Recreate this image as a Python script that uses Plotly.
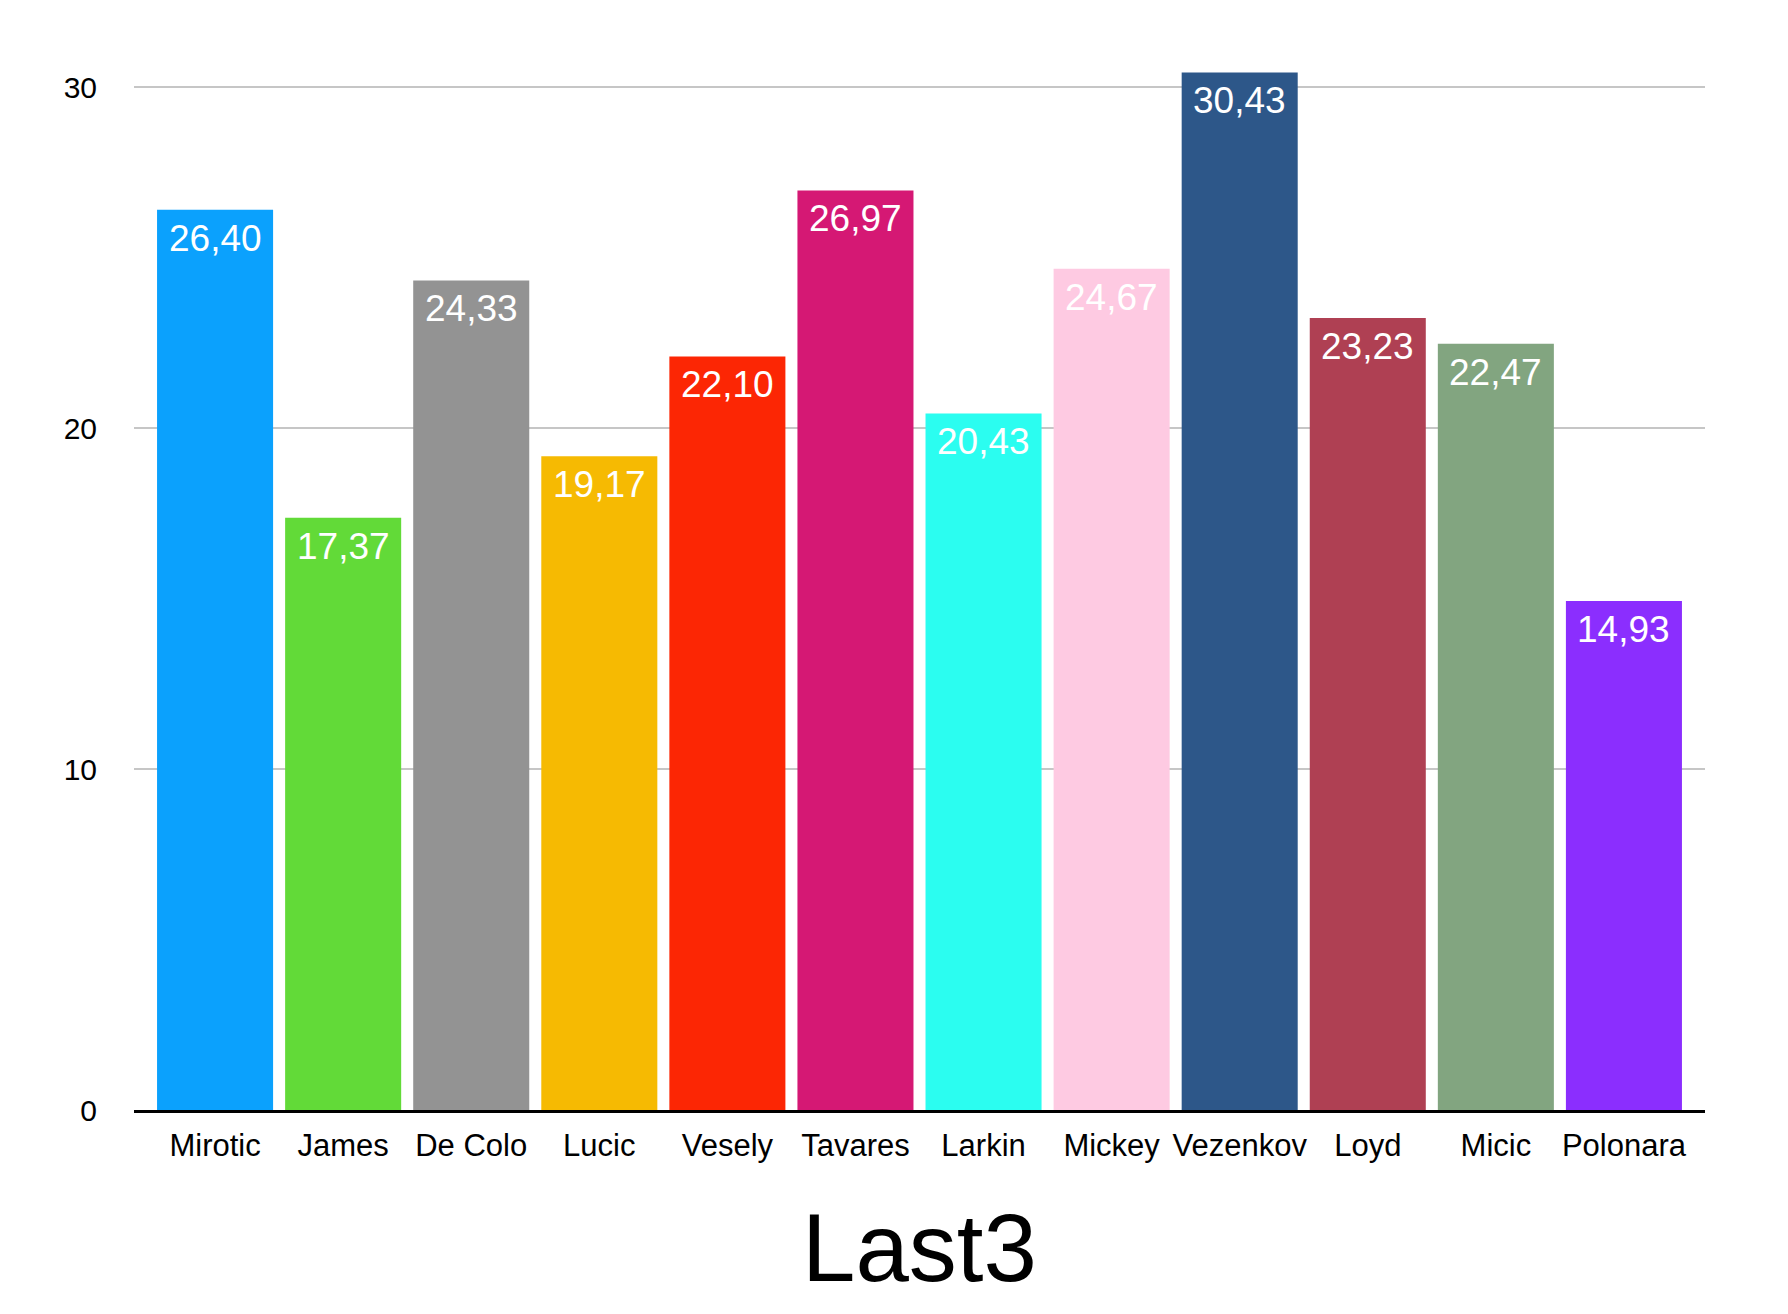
import plotly.graph_objects as go

# Last3 averages per player
players = ["Mirotic", "James", "De Colo", "Lucic", "Vesely", "Tavares",
           "Larkin", "Mickey", "Vezenkov", "Loyd", "Micic", "Polonara"]
last3 = [26.40, 17.37, 24.33, 19.17, 22.10, 26.97,
         20.43, 24.67, 30.43, 23.23, 22.47, 14.93]
bar_colors = ["#0BA1FD", "#62DA38", "#939393", "#F6BA02", "#FC2604", "#D51874",
              "#2BFDF0", "#FECAE2", "#2D5789", "#AF4053", "#82A580", "#8B2EFE"]
y_ticks = [0, 10, 20, 30]

FONT = "Liberation Sans, Arial, Helvetica, sans-serif"

fig = go.Figure()

fig.add_trace(go.Bar(x=players,
                     y=last3,
                     marker_color=bar_colors,
                     marker_line_width=0,
                     hovertemplate="%{x}: %{y:.2f}<extra></extra>"))

# value labels just under the top of each bar (comma decimal)
for name, val in zip(players, last3):
    fig.add_annotation(x=name, y=val,
                       text=f"{val:.2f}".replace(".", ","),
                       showarrow=False,
                       yanchor="top",
                       yshift=-6,
                       font=dict(family=FONT, size=37, color="white"))

# page body has an 8px margin, so the figure is a bit smaller than the window
fig.update_layout(width=1772,
                  height=1298,
                  margin=dict(l=126, r=75, t=45, b=196),
                  paper_bgcolor="white",
                  plot_bgcolor="white",
                  bargap=0.094,
                  showlegend=False,
                  font=dict(family=FONT, color="black"),
                  xaxis=dict(range=[-0.633, 11.633],
                             showline=True,
                             linecolor="black",
                             linewidth=3,
                             showgrid=False,
                             ticks="",
                             ticklabelstandoff=6,
                             tickfont=dict(family=FONT, size=31),
                             title=dict(text="Last3",
                                        font=dict(family=FONT, size=96),
                                        standoff=52)),
                  yaxis=dict(range=[0, 31],
                             tickvals=y_ticks,
                             showgrid=True,
                             gridcolor="#C6C6C6",
                             gridwidth=1.5,
                             zeroline=False,
                             showline=False,
                             ticks="",
                             ticklabelstandoff=36,
                             tickfont=dict(family=FONT, size=30)))

fig.write_html("out.html")
